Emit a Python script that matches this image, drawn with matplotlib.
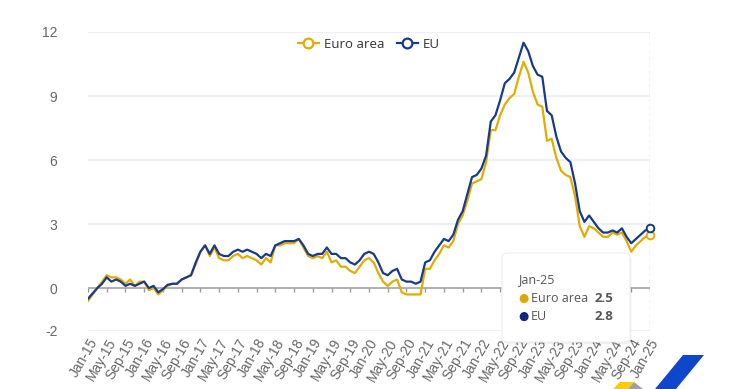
import numpy as np
import matplotlib.pyplot as plt
from matplotlib.lines import Line2D
from matplotlib.patches import FancyBboxPatch, Polygon

plt.rcParams['axes.unicode_minus'] = False

# Monthly annual inflation rates (%), Jan-15 .. Jan-25
euro_area = [
    -0.6, -0.3, 0.0, 0.3, 0.6, 0.5, 0.5, 0.4, 0.2, 0.4, 0.1, 0.3,
    0.3, -0.1, 0.0, -0.3, -0.1, 0.1, 0.2, 0.2, 0.4, 0.5, 0.6, 1.1,
    1.7, 2.0, 1.5, 1.9, 1.4, 1.3, 1.3, 1.5, 1.6, 1.4, 1.5, 1.4,
    1.3, 1.1, 1.4, 1.2, 2.0, 2.0, 2.1, 2.1, 2.1, 2.3, 1.9, 1.5,
    1.4, 1.5, 1.4, 1.7, 1.2, 1.3, 1.0, 1.0, 0.8, 0.7, 1.0, 1.3,
    1.4, 1.2, 0.7, 0.3, 0.1, 0.3, 0.4, -0.2, -0.3, -0.3, -0.3, -0.3,
    0.9, 0.9, 1.3, 1.6, 2.0, 1.9, 2.2, 3.0, 3.4, 4.1, 4.9, 5.0,
    5.1, 5.9, 7.4, 7.4, 8.1, 8.6, 8.9, 9.1, 9.9, 10.6, 10.1, 9.2,
    8.6, 8.5, 6.9, 7.0, 6.1, 5.5, 5.3, 5.2, 4.3, 2.9, 2.4, 2.9,
    2.8, 2.6, 2.4, 2.4, 2.6, 2.5, 2.6, 2.2, 1.7, 2.0, 2.2, 2.4,
    2.5,
]
eu = [
    -0.5, -0.25, 0.0, 0.2, 0.5, 0.3, 0.4, 0.3, 0.1, 0.2, 0.1, 0.2,
    0.3, 0.0, 0.1, -0.2, -0.05, 0.15, 0.2, 0.2, 0.4, 0.5, 0.6, 1.2,
    1.7, 2.0, 1.6, 2.0, 1.6, 1.5, 1.5, 1.7, 1.8, 1.7, 1.8, 1.7,
    1.6, 1.4, 1.6, 1.5, 2.0, 2.1, 2.2, 2.2, 2.2, 2.3, 2.0, 1.6,
    1.5, 1.6, 1.6, 1.9, 1.6, 1.6, 1.4, 1.4, 1.2, 1.1, 1.3, 1.6,
    1.7, 1.6, 1.2, 0.7, 0.6, 0.8, 0.9, 0.4, 0.3, 0.3, 0.2, 0.3,
    1.2, 1.3, 1.7, 2.0, 2.3, 2.2, 2.5, 3.2, 3.6, 4.4, 5.2, 5.3,
    5.6, 6.2, 7.8, 8.1, 8.8, 9.6, 9.8, 10.1, 10.8, 11.5, 11.1, 10.4,
    10.0, 9.9, 8.3, 8.1, 7.1, 6.4, 6.1, 5.9, 4.9, 3.6, 3.1, 3.4,
    3.1, 2.8, 2.6, 2.6, 2.7, 2.6, 2.8, 2.4, 2.1, 2.3, 2.5, 2.7,
    2.8,
]
month_names = ['Jan', 'May', 'Sep']
years = list(range(15, 26))
tick_labels = [f'{m}-{y}' for y in years for m in month_names][:31]
y_ticks = [-2, 0, 3, 6, 9, 12]

c_ea = '#e3ac00'
c_eu = '#173a8c'
grey_txt = '#666666'

fig = plt.figure(figsize=(7.4, 3.89), dpi=100)
ax = fig.add_axes([88 / 740, 1 - 330.7 / 389, 562 / 740, 298.7 / 389])

x = np.arange(len(euro_area))
ax.plot(x, euro_area, color=c_ea, lw=1.6, zorder=3)
ax.plot(x, eu, color=c_eu, lw=1.6, zorder=4)
# hollow markers at the last month
ax.plot(x[-1], euro_area[-1], 'o', ms=5.5, mfc='white', mec=c_ea, mew=1.4, clip_on=False, zorder=5)
ax.plot(x[-1], eu[-1], 'o', ms=5.5, mfc='white', mec=c_eu, mew=1.4, clip_on=False, zorder=6)

ax.set_xlim(0, len(x) - 1)
ax.set_ylim(-2, 12)
ax.set_yticks(y_ticks)
ax.set_xticks(np.arange(0, len(x), 4))
ax.set_xticklabels(tick_labels, rotation=60, ha='right', rotation_mode='anchor',
                   fontsize=10, color=grey_txt, family='Liberation Sans')
for lab in ax.get_yticklabels():
    lab.set_family('Liberation Sans')
ax.tick_params(axis='y', length=0, pad=22, labelsize=10, labelcolor=grey_txt)
ax.tick_params(axis='x', length=0, pad=4)

for s in ax.spines.values():
    s.set_visible(False)
for v in y_ticks:
    if v != 0:
        ax.axhline(v, color='#e9ecf3', lw=1.2, zorder=1)
ax.axhline(0, color='#9a9a9a', lw=1.1, zorder=2)
ax.vlines(np.arange(0, len(x), 4), -0.2, 0, color='#9a9a9a', lw=1.0, zorder=2)
ax.axvline(len(x) - 1, color='#c8ccd6', lw=1.0, ls=(0, (3, 2)), zorder=1)

handles = [Line2D([0], [0], color=c, lw=1.6, marker='o', ms=7, mfc='white', mec=c, mew=1.6)
           for c in (c_ea, c_eu)]
leg = ax.legend(handles, ['Euro area', 'EU'], loc='upper center', bbox_to_anchor=(0.5, 1.02),
                ncol=2, frameon=False, numpoints=1, handlelength=1.6, columnspacing=0.9,
                handletextpad=0.4, prop={'family': 'Open Sans', 'size': 9.5})
for t in leg.get_texts():
    t.set_color('#333333')

# tooltip box
tx0, ty0, tw, th = 502 / 740, 1 - 342 / 389, 128 / 740, 89 / 389
shadow = FancyBboxPatch((tx0 + 0.002, ty0 - 0.006), tw, th, boxstyle='round,pad=0,rounding_size=0.01',
                        transform=fig.transFigure, fc='#000000', alpha=0.06, ec='none', zorder=5)
box = FancyBboxPatch((tx0, ty0), tw, th, boxstyle='round,pad=0,rounding_size=0.01',
                     transform=fig.transFigure, fc='white', ec='#eeeeee', lw=0.8, zorder=6)
fig.patches.extend([shadow, box])
fig.text(518 / 740, 1 - 280 / 389, tick_labels[-1], fontsize=9, color='#555555',
         va='center', family='Open Sans', zorder=7)
rows = [('Euro area', euro_area[-1], '#d9a900', 298), ('EU', eu[-1], '#0d2a7c', 316)]
for name, val, col, ypx in rows:
    fig.text(518 / 740, 1 - ypx / 389, '\u25cf', fontsize=8.5, color=col, va='center',
             ha='left', zorder=7)
    fig.text(531 / 740, 1 - ypx / 389, name, fontsize=9, color='#555555', va='center',
             family='Open Sans', zorder=7)
    fig.text(613 / 740, 1 - ypx / 389, f'{val:.1f}', fontsize=9.5, color='#555555',
             va='center', ha='right', fontweight='bold', family='Open Sans', zorder=7)

# logo fragment bottom right
def px(pts):
    return [(a / 740, 1 - b / 389) for a, b in pts]

fig.patches.append(Polygon(px([(683, 355), (704, 355), (676, 389), (655, 389)]),
                           closed=True, transform=fig.transFigure, fc='#0e47cb', ec='none'))
fig.patches.append(Polygon(px([(620, 382), (634, 382), (628, 389), (613, 389)]),
                           closed=True, transform=fig.transFigure, fc='#ffcc00', ec='none'))
fig.patches.append(Polygon(px([(634, 382), (643, 389), (628, 389)]),
                           closed=True, transform=fig.transFigure, fc='#a0a0a0', ec='none'))

fig.savefig('out.png', dpi=100, facecolor='white')
